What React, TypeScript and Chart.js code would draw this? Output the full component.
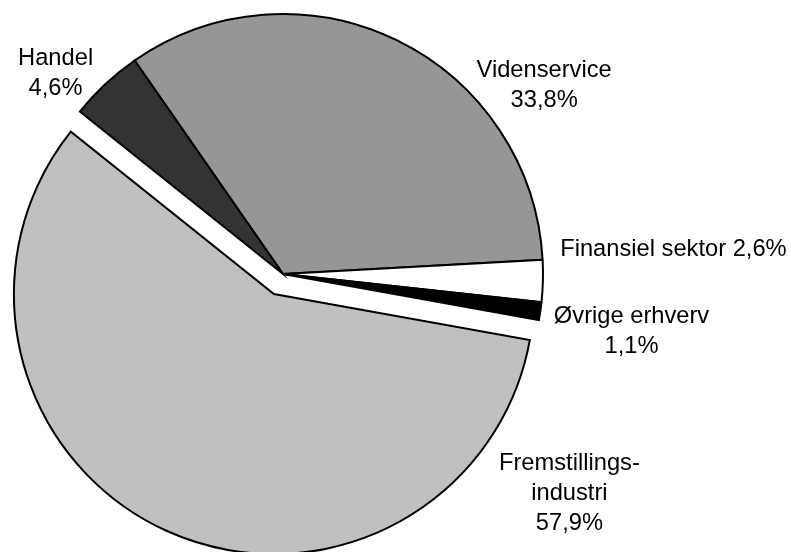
import React, { useEffect, useRef } from "react";
import { Chart, registerables } from "chart.js";

Chart.register(...registerables);

// ---- data ----
const categories = ["Videnservice", "Finansiel sektor", "Øvrige erhverv", "Fremstillingsindustri", "Handel"];
const shares = [33.8, 2.6, 1.1, 57.9, 4.6];
const labelLines = [
  ["Videnservice", "33,8%"],
  ["Finansiel sektor 2,6%"],
  ["Øvrige erhverv", "1,1%"],
  ["Fremstillings-", "industri", "57,9%"],
  ["Handel", "4,6%"],
];
const sliceColors = ["#969696", "#ffffff", "#000000", "#c0c0c0", "#333333"];

// ---- layout / style ----
const explodedIndex = 3;
const explodeDistance = 22;
// label nudges relative to the point on the rim at each slice's mid-angle
const labelNudges = [
  [147, 37],
  [130.5, -25],
  [91.2, 11.8],
  [403, -60.7],
  [-49.8, -19.2],
];
const FONT = "23.7px 'Liberation Sans', Arial, sans-serif";
const LINE_HEIGHT = 30;

const explodePlugin = {
  id: "explodeSlice",
  afterDatasetUpdate(chart: any, args: any) {
    const meta = chart.getDatasetMeta(args.index);
    const arc = meta.data[explodedIndex];
    if (!arc) return;
    const mid = (arc.startAngle + arc.endAngle) / 2;
    arc.x += Math.cos(mid) * explodeDistance;
    arc.y += Math.sin(mid) * explodeDistance;
  },
};

const labelPlugin = {
  id: "sliceLabels",
  afterDatasetsDraw(chart: any) {
    const ctx = chart.ctx;
    const meta = chart.getDatasetMeta(0);
    ctx.save();
    ctx.font = FONT;
    ctx.fillStyle = "#000000";
    ctx.textAlign = "center";
    ctx.textBaseline = "alphabetic";
    meta.data.forEach((arc: any, i: number) => {
      const mid = (arc.startAngle + arc.endAngle) / 2;
      const ax = arc.x + Math.cos(mid) * arc.outerRadius + labelNudges[i][0];
      const ay = arc.y + Math.sin(mid) * arc.outerRadius + labelNudges[i][1];
      labelLines[i].forEach((line, j) => {
        ctx.fillText(line, ax, ay + j * LINE_HEIGHT);
      });
    });
    ctx.restore();
  },
};

export default function App() {
  const canvasRef = useRef<HTMLCanvasElement | null>(null);

  useEffect(() => {
    document.body.style.margin = "0";
    const canvas = canvasRef.current;
    if (!canvas) return;
    const chart = new Chart(canvas, {
      type: "pie",
      data: {
        labels: categories,
        datasets: [
          {
            data: shares,
            backgroundColor: sliceColors,
            borderColor: "#000000",
            borderWidth: 2,
            borderJoinStyle: "miter",
          } as any,
        ],
      },
      options: {
        responsive: false,
        animation: false,
        events: [],
        radius: 260,
        rotation: -34.8,
        layout: { padding: { left: 0, right: 225, top: 0, bottom: 4 } },
        plugins: {
          legend: { display: false },
          tooltip: { enabled: false },
        },
      } as any,
      plugins: [explodePlugin, labelPlugin],
    });
    return () => chart.destroy();
  }, []);

  return (
    <div style={{ position: "absolute", left: 0, top: 0, width: 791, height: 552, background: "#ffffff" }}>
      <canvas ref={canvasRef} width={791} height={552} style={{ width: 791, height: 552 }} />
    </div>
  );
}
